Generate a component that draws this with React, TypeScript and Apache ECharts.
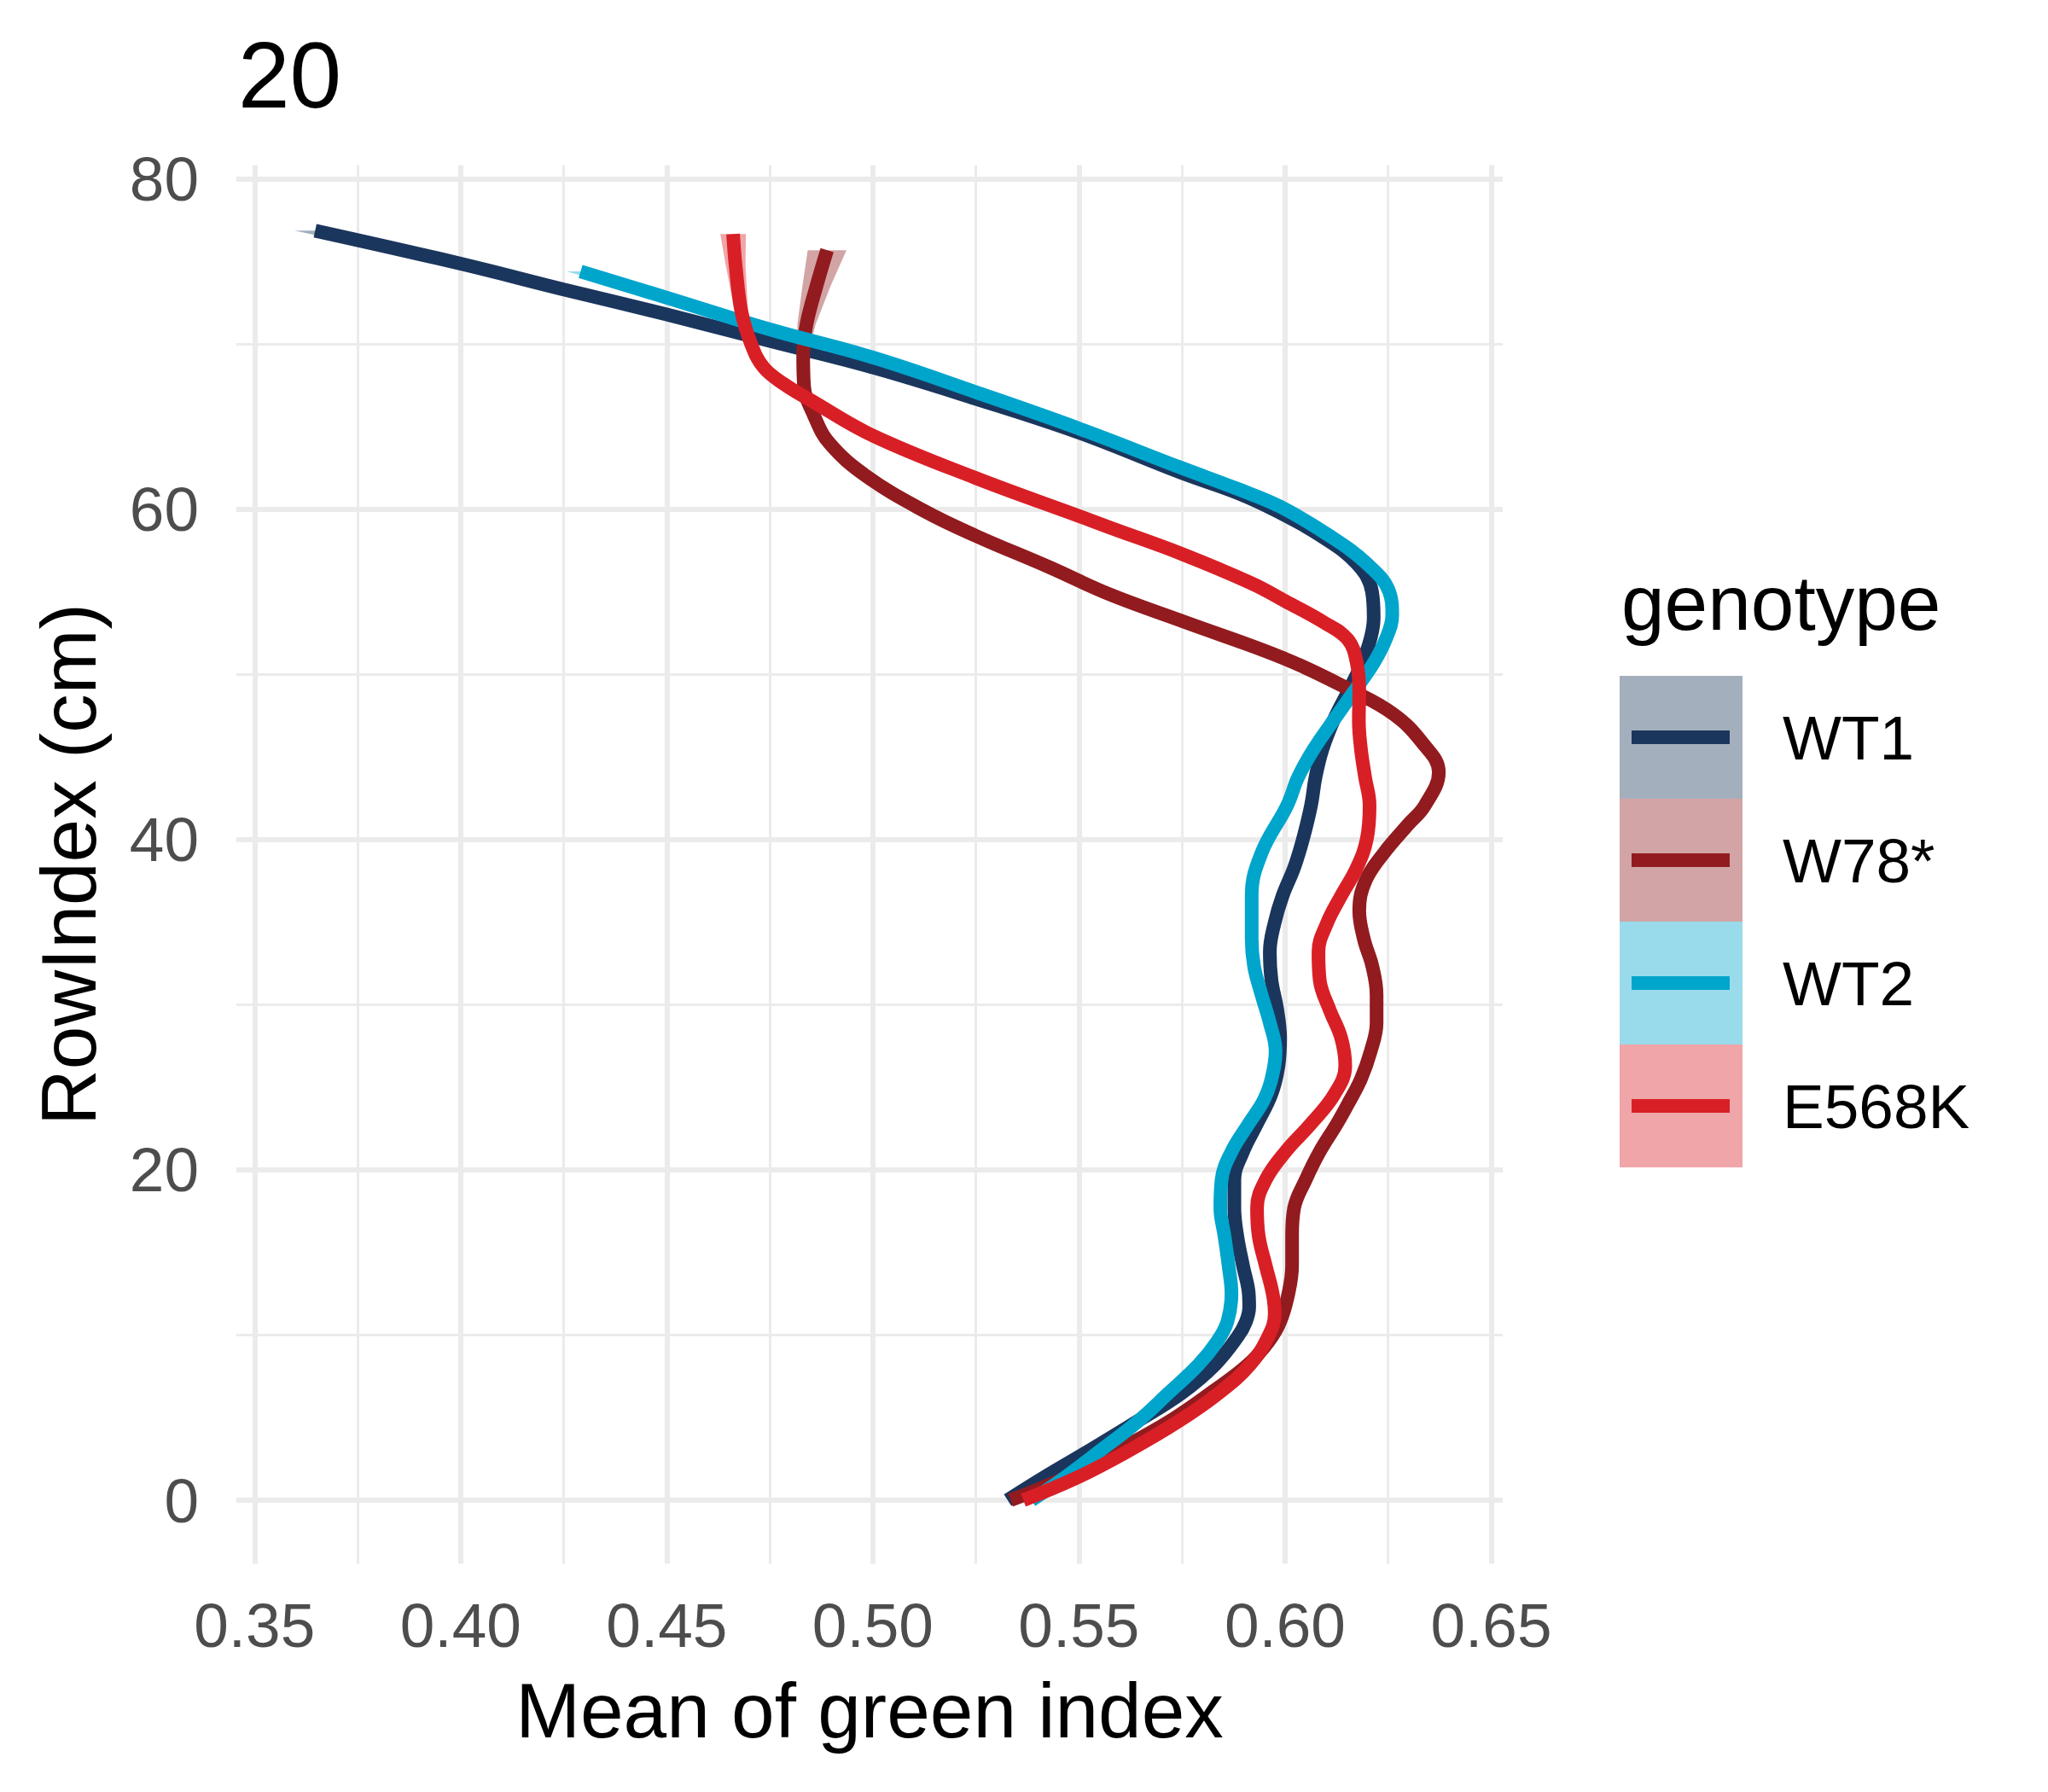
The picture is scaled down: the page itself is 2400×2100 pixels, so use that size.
import React, { useEffect, useRef } from 'react';
import * as echarts from 'echarts';

const genotypes = ['WT1', 'W78*', 'WT2', 'E568K'];
const lineColors = ['#1B365D', '#921B1F', '#00A5CC', '#D91F26'];

// [mean green index, row index (cm)], read from the top of the plant down to 0
const wt1: number[][] = [
  [0.3647, 76.88], [0.4, 74.88], [0.425, 73.32], [0.45, 71.81], [0.475, 70.2],
  [0.5, 68.6], [0.525, 66.7], [0.55, 64.65], [0.575, 62.2], [0.5884, 61.0],
  [0.598, 59.9], [0.6084, 58.45], [0.6174, 56.72], [0.6211, 55.0], [0.6215, 53.45],
  [0.6208, 52.24], [0.6187, 50.7], [0.6153, 48.97], [0.6118, 47.24], [0.6091, 45.5],
  [0.6074, 43.8], [0.6063, 42.07], [0.6043, 40.0], [0.6022, 38.3], [0.5994, 36.6],
  [0.5974, 34.9], [0.5963, 33.2], [0.5967, 31.5], [0.5981, 29.7], [0.5988, 28.0],
  [0.5984, 26.3], [0.5967, 24.6], [0.5932, 22.8], [0.5898, 21.1], [0.5877, 19.4],
  [0.5877, 17.7], [0.5884, 16.0], [0.5898, 14.2], [0.5912, 12.5], [0.5913, 11.7],
  [0.5905, 10.8], [0.5885, 9.9], [0.583, 8.2], [0.575, 6.5], [0.564, 4.75],
  [0.5525, 3.0], [0.541, 1.3], [0.5327, 0],
];

const w78: number[][] = [
  [0.4889, 75.7], [0.4863, 73.5], [0.4839, 71.2], [0.4831, 69.4], [0.4833, 67.5],
  [0.4857, 65.7], [0.4895, 64.0], [0.4985, 62.0], [0.5125, 59.9], [0.525, 58.4],
  [0.5428, 56.5], [0.5574, 54.86], [0.575, 53.24], [0.6, 50.95], [0.616, 49.05],
  [0.6263, 47.6], [0.6332, 45.9], [0.6373, 44.1], [0.6339, 42.07], [0.6298, 40.9],
  [0.624, 39.2], [0.6195, 37.5], [0.618, 35.7], [0.6191, 34.0], [0.6212, 32.3],
  [0.6222, 30.6], [0.6222, 28.9], [0.6208, 27.2], [0.6184, 25.5], [0.6155, 24.1],
  [0.6126, 22.8], [0.6084, 21.1], [0.605, 19.4], [0.6022, 17.7], [0.6017, 16.0],
  [0.6017, 14.2], [0.6008, 12.5], [0.5988, 10.8], [0.596, 9.6], [0.591, 8.2],
  [0.582, 6.5], [0.5718, 4.75], [0.5593, 3.0], [0.5462, 1.3], [0.5334, 0],
];

const wt2: number[][] = [
  [0.4291, 74.41], [0.45, 72.82], [0.475, 70.9], [0.5, 69.2], [0.525, 67.1],
  [0.55, 64.9], [0.575, 62.5], [0.5884, 61.25], [0.5988, 60.17], [0.6105, 58.45],
  [0.6198, 56.72], [0.6253, 55.0], [0.626, 53.6], [0.6246, 52.24], [0.6215, 50.7],
  [0.6167, 48.97], [0.6118, 47.24], [0.607, 45.5], [0.6032, 43.8], [0.6005, 42.07],
  [0.5943, 39.2], [0.5919, 36.6], [0.5919, 34.0], [0.5925, 32.3], [0.5943, 30.6],
  [0.5963, 28.9], [0.5977, 27.2], [0.5967, 25.5], [0.5948, 24.2], [0.5912, 22.8],
  [0.587, 21.1], [0.5846, 19.4], [0.5843, 17.7], [0.5853, 16.0], [0.5863, 14.2],
  [0.587, 12.5], [0.586, 10.8], [0.5835, 9.6], [0.579, 8.2], [0.5718, 6.5],
  [0.5642, 4.75], [0.5552, 3.0], [0.5462, 1.3], [0.5385, 0],
];

const e568k: number[][] = [
  [0.4661, 76.68], [0.4667, 74.8], [0.4681, 72.0], [0.4705, 70.0], [0.4735, 68.6],
  [0.4784, 67.6], [0.485, 66.6], [0.5, 64.47], [0.525, 61.9], [0.55, 59.6],
  [0.5575, 58.9], [0.575, 57.3], [0.5919, 55.52], [0.6, 54.45], [0.6098, 53.1],
  [0.6153, 52.1], [0.6174, 50.7], [0.618, 48.97], [0.6179, 47.24], [0.6184, 45.5],
  [0.6194, 43.8], [0.6205, 42.07], [0.6198, 40.0], [0.6174, 38.3], [0.6136, 36.6],
  [0.6101, 34.9], [0.6081, 33.2], [0.6084, 31.5], [0.6108, 29.7], [0.6136, 28.0],
  [0.6146, 26.3], [0.6119, 24.55], [0.6063, 22.8], [0.6001, 21.1], [0.5953, 19.4],
  [0.5932, 17.7], [0.5936, 16.0], [0.5953, 14.2], [0.597, 12.5], [0.5975, 11.3],
  [0.596, 9.95], [0.5915, 8.2], [0.584, 6.5], [0.574, 4.75], [0.5621, 3.0],
  [0.549, 1.3], [0.5365, 0],
];

// confidence band half-width in x, [row index, half width]; only visible near the top ends
const wt1Band: number[][] = [[76.88, 0.005], [74.88, 0.003], [73.32, 0.002], [71.81, 0.001]];
const w78Band: number[][] = [[75.7, 0.0047], [73.5, 0.0034], [71.2, 0.0022], [69.4, 0.0012], [67.5, 0.0006]];
const wt2Band: number[][] = [[74.41, 0.0034], [72.82, 0.002], [70.9, 0.001]];
const e568kBand: number[][] = [[76.68, 0.0031], [74.8, 0.0024], [72.0, 0.0016], [70.0, 0.001], [68.6, 0.0005]];

const seriesData = [wt1, w78, wt2, e568k];
const bandData = [wt1Band, w78Band, wt2Band, e568kBand];

const FONT = '"Liberation Sans", Arial, Helvetica, sans-serif';

const App: React.FC = () => {
  const chartRef = useRef<HTMLDivElement>(null);

  useEffect(() => {
    if (!chartRef.current) return;
    const chart = echarts.init(chartRef.current, null, { renderer: 'svg' });

    const gridLeft = 277;
    const gridTop = 193.5;
    const gridWidth = 1484;
    const gridHeight = 1639;

    // legend drawn like ggplot's: a filled key with the line across its middle
    const keyX = 1898;
    const keyTop = 792;
    const keySize = 144;
    const legendItems: any[] = [];
    genotypes.forEach((name, i) => {
      const cy = keyTop + keySize * i + keySize / 2;
      legendItems.push(
        {
          type: 'rect',
          shape: { x: keyX, y: keyTop + keySize * i, width: keySize, height: keySize },
          style: { fill: lineColors[i], opacity: 0.4 },
        },
        {
          type: 'line',
          shape: { x1: keyX + 14, y1: cy, x2: keyX + 129, y2: cy },
          style: { stroke: lineColors[i], lineWidth: 16 },
        },
        {
          type: 'text',
          x: 2089,
          y: cy,
          style: {
            text: name, fill: '#000', fontSize: 73, fontFamily: FONT,
            align: 'left', verticalAlign: 'middle',
          },
        }
      );
    });

    const bandSeries = {
      type: 'custom',
      silent: true,
      z: 1,
      data: seriesData.map((d) => d[0]),
      renderItem: (params: any, api: any) => {
        const i = params.dataIndex;
        const line = seriesData[i];
        const left: number[][] = [];
        const right: number[][] = [];
        bandData[i].forEach(([y, w]) => {
          const pt = line.find((p) => p[1] === y);
          if (!pt) return;
          left.push(api.coord([pt[0] - w, y]));
          right.push(api.coord([pt[0] + w, y]));
        });
        return {
          type: 'polygon',
          shape: { points: left.concat(right.reverse()) },
          style: { fill: lineColors[i], opacity: 0.4 },
        };
      },
    };

    const options: any = {
      animation: false,
      backgroundColor: '#fff',
      grid: { left: gridLeft, top: gridTop, width: gridWidth, height: gridHeight, containLabel: false },
      xAxis: {
        type: 'value',
        min: 0.3456,
        max: 0.6528,
        minInterval: 0.05,
        maxInterval: 0.05,
        axisLine: { show: false },
        axisTick: { show: false },
        axisLabel: {
          formatter: (v: number) => v.toFixed(2),
          showMinLabel: false,
          showMaxLabel: false,
          color: '#4D4D4D',
          fontSize: 73,
          fontFamily: FONT,
          margin: 72,
          verticalAlign: 'middle',
        },
        splitLine: { show: true, showMinLine: false, showMaxLine: false, lineStyle: { color: '#EBEBEB', width: 6 } },
        minorTick: { show: false, splitNumber: 2 },
        minorSplitLine: { show: true, lineStyle: { color: '#EBEBEB', width: 3 } },
      },
      yAxis: {
        type: 'value',
        min: -3.85,
        max: 80.85,
        minInterval: 20,
        maxInterval: 20,
        axisLine: { show: false },
        axisTick: { show: false },
        axisLabel: {
          showMinLabel: false,
          showMaxLabel: false,
          color: '#4D4D4D',
          fontSize: 73,
          fontFamily: FONT,
          margin: 44,
        },
        splitLine: { show: true, showMinLine: false, showMaxLine: false, lineStyle: { color: '#EBEBEB', width: 6 } },
        minorTick: { show: false, splitNumber: 2 },
        minorSplitLine: { show: true, lineStyle: { color: '#EBEBEB', width: 3 } },
      },
      series: [
        bandSeries,
        ...seriesData.map((data, i) => ({
          name: genotypes[i],
          type: 'line',
          data,
          smooth: 0.4,
          showSymbol: false,
          symbol: 'none',
          lineStyle: { color: lineColors[i], width: 16, cap: 'butt' },
          z: 2 + i,
        })),
      ],
      graphic: [
        {
          type: 'text',
          x: 279,
          y: 88,
          style: { text: '20', fill: '#000', fontSize: 109, fontFamily: FONT, align: 'left', verticalAlign: 'middle' },
        },
        {
          type: 'text',
          x: gridLeft + gridWidth / 2,
          y: 2004,
          style: {
            text: 'Mean of green index', fill: '#000', fontSize: 91, fontFamily: FONT,
            align: 'center', verticalAlign: 'middle',
          },
        },
        {
          type: 'text',
          x: 80,
          y: gridTop + gridHeight / 2,
          rotation: Math.PI / 2,
          style: {
            text: 'RowIndex (cm)', fill: '#000', fontSize: 91, fontFamily: FONT,
            align: 'center', verticalAlign: 'middle',
          },
        },
        {
          type: 'text',
          x: 1900,
          y: 706,
          style: { text: 'genotype', fill: '#000', fontSize: 91, fontFamily: FONT, align: 'left', verticalAlign: 'middle' },
        },
        ...legendItems,
      ],
    };

    chart.setOption(options);

    return () => {
      chart.dispose();
    };
  }, []);

  return (
    <div
      ref={chartRef}
      style={{ position: 'fixed', left: 0, top: 0, width: 2400, height: 2100, background: '#fff' }}
    />
  );
};

export default App;
